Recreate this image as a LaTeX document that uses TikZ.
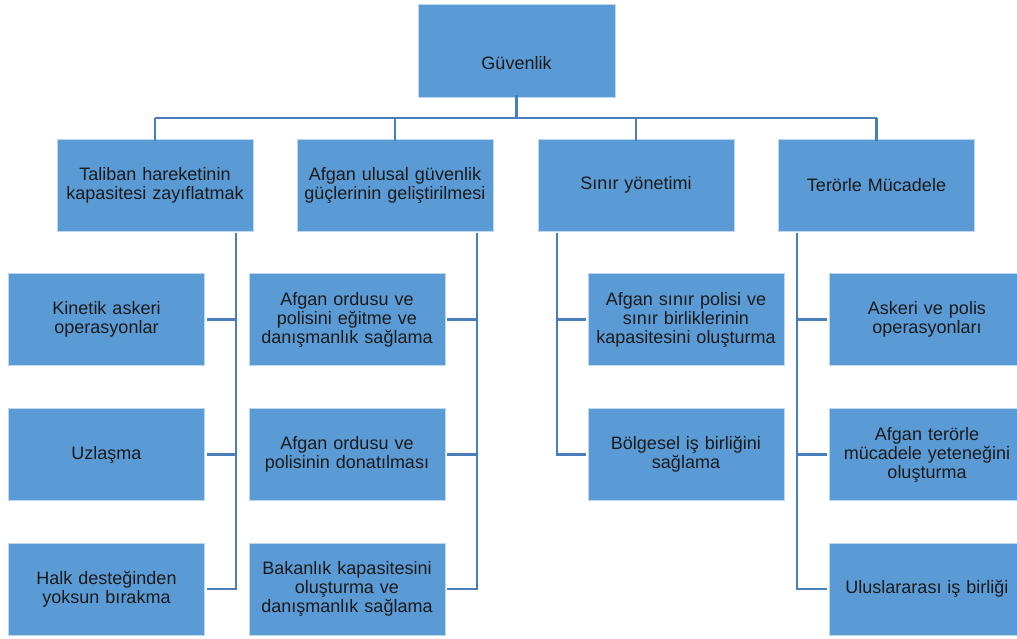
\documentclass[tikz,border=0pt]{standalone}
\usepackage{fontspec}
\setmainfont[WordSpace=1.4]{Liberation Sans}
\definecolor{boxblue}{HTML}{5B9BD5}
\definecolor{boxedge}{HTML}{BDD7EE}
\definecolor{linkblue}{HTML}{4A7EBB}
\definecolor{txt}{HTML}{1A1A1A}
\begin{document}
\begin{tikzpicture}[x=1pt,y=-1pt,
  box/.style={rectangle, fill=boxblue, draw=boxedge, line width=0.8pt,
    minimum width=196pt, minimum height=92pt, text width=192pt, align=center,
    inner sep=0pt, text=txt, font=\fontsize{18}{19}\selectfont},
  link/.style={draw=linkblue, line width=2.2pt}]
\clip (0,0) rectangle (1017,639);
\fill[white] (0,0) rectangle (1017,639);

\node[box, minimum width=197pt, minimum height=93pt] (top) at (516.5,50.5) {};
\node[text=txt, font=\fontsize{18}{19}\selectfont] (toplabel) at (516.5,63) {Güvenlik};

\node[box] (b1) at (155,185) {Taliban hareketinin\\kapasitesi zayıflatmak};
\node[box] (b2) at (395,185) {Afgan ulusal güvenlik\\güçlerinin geliştirilmesi};
\node[box] (b3) at (636,185) {Sınır yönetimi};
\node[box] (b4) at (876.5,185) {Terörle Mücadele};

\node[box] (c11) at (106.5,319.5) {Kinetik askeri\\operasyonlar};
\node[box] (c12) at (106.5,454.5) {Uzlaşma};
\node[box] (c13) at (106.5,589) {Halk desteğinden\\yoksun bırakma};

\node[box] (c21) at (347,319.5) {Afgan ordusu ve\\polisini eğitme ve\\danışmanlık sağlama};
\node[box] (c22) at (347,454.5) {Afgan ordusu ve\\polisinin donatılması};
\node[box] (c23) at (347,589) {Bakanlık kapasitesini\\oluşturma ve\\danışmanlık sağlama};

\node[box] (c31) at (686,319.5) {Afgan sınır polisi ve\\sınır birliklerinin\\kapasitesini oluşturma};
\node[box] (c32) at (686,454.5) {Bölgesel iş birliğini\\sağlama};

\node[box] (c41) at (927,319.5) {Askeri ve polis\\operasyonları};
\node[box] (c42) at (927,454.5) {Afgan terörle\\mücadele yeteneğini\\oluşturma};
\node[box] (c43) at (927,589) {Uluslararası iş birliği};

% bus from top
\coordinate (bus) at (516.5,118);
\draw[link] ([yshift=2pt]top.south) -- (bus);
\draw[link] (bus -| b1.north) -- (bus -| b4.north);
\foreach \b in {b1,b2,b3,b4}{
  \draw[link] (bus -| \b.north) -- ([yshift=-2pt]\b.north);
}

% spines
\coordinate (s1) at (236,233);
\coordinate (s2) at (477,233);
\coordinate (s3) at (557,233);
\coordinate (s4) at (797,233);

\foreach \c in {c11,c12,c13}{\draw[link] (s1) |- ([xshift=2pt]\c.east);}
\foreach \c in {c21,c22,c23}{\draw[link] (s2) |- ([xshift=2pt]\c.east);}
\foreach \c in {c31,c32}{\draw[link] (s3) |- ([xshift=-2pt]\c.west);}
\foreach \c in {c41,c42,c43}{\draw[link] (s4) |- ([xshift=-2pt]\c.west);}
\end{tikzpicture}
\end{document}
